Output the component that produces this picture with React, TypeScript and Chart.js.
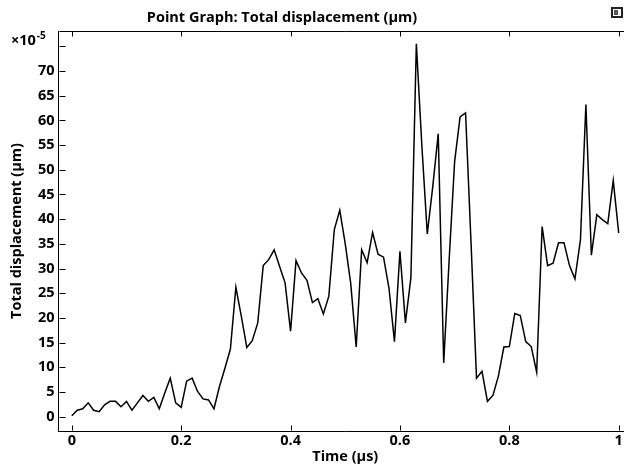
import React, { useEffect, useRef } from "react";
import { Chart, registerables } from "chart.js";

Chart.register(...registerables);

// Time (µs)
const TIMES = [
  0, 0.01, 0.02, 0.03, 0.04, 0.05, 0.06, 0.07, 0.08, 0.09,
  0.1, 0.11, 0.12, 0.13, 0.14, 0.15, 0.16, 0.17, 0.18, 0.19,
  0.2, 0.21, 0.22, 0.23, 0.24, 0.25, 0.26, 0.27, 0.28, 0.29,
  0.3, 0.31, 0.32, 0.33, 0.34, 0.35, 0.36, 0.37, 0.38, 0.39,
  0.4, 0.41, 0.42, 0.43, 0.44, 0.45, 0.46, 0.47, 0.48, 0.49,
  0.5, 0.51, 0.52, 0.53, 0.54, 0.55, 0.56, 0.57, 0.58, 0.59,
  0.6, 0.61, 0.62, 0.63, 0.64, 0.65, 0.66, 0.67, 0.68, 0.69,
  0.7, 0.71, 0.72, 0.73, 0.74, 0.75, 0.76, 0.77, 0.78, 0.79,
  0.8, 0.81, 0.82, 0.83, 0.84, 0.85, 0.86, 0.87, 0.88, 0.89,
  0.9, 0.91, 0.92, 0.93, 0.94, 0.95, 0.96, 0.97, 0.98, 0.99,
  1,
];

// Total displacement (µm), in units of 1e-5
const DISPLACEMENT = [
  0.2, 1.3, 1.6, 2.8, 1.3, 1.0, 2.4, 3.1, 3.1, 2.0,
  3.1, 1.3, 2.8, 4.3, 3.1, 3.9, 1.6, 4.8, 7.8, 2.8,
  1.9, 7.2, 7.8, 5.1, 3.6, 3.4, 1.6, 6.1, 9.8, 13.7,
  26.2, 20.3, 14.0, 15.4, 19.0, 30.6, 31.8, 33.8, 30.4, 27.1,
  17.3, 31.6, 29.1, 27.6, 23.1, 23.9, 20.8, 24.4, 37.9, 41.8,
  35.0, 27.0, 14.1, 33.8, 31.2, 37.3, 32.9, 32.3, 26.0, 15.2,
  33.5, 19.0, 28.1, 75.5, 55.0, 37.0, 46.6, 57.3, 10.9, 31.8,
  51.7, 60.7, 61.5, 35.2, 7.8, 9.2, 3.1, 4.3, 8.2, 14.1,
  14.2, 20.9, 20.5, 15.2, 14.2, 9.0, 38.5, 30.6, 31.1, 35.2,
  35.2, 30.6, 27.9, 35.8, 63.2, 32.7, 40.9, 39.9, 39.1, 47.8,
  37.2,
];

const X_TICKS = [0, 0.2, 0.4, 0.6, 0.8, 1];
const Y_TICKS = [0, 5, 10, 15, 20, 25, 30, 35, 40, 45, 50, 55, 60, 65, 70, 75];
const Y_HIDDEN_LABELS = [75];

const TITLE = "Point Graph: Total displacement (µm)";
const X_TITLE = "Time (µs)";
const Y_TITLE = "Total displacement (µm)";
const Y_MULTIPLIER = "×10";
const Y_EXPONENT = "-5";

const FONT = "'Open Sans', 'Noto Sans', sans-serif";
const FS = 14.5;

const decorPlugin = {
  id: "decor",
  afterDraw(chart: any) {
    const { ctx, chartArea: a, scales } = chart;
    const xs = scales.x;
    const ys = scales.y;
    ctx.save();
    ctx.strokeStyle = "#000";
    ctx.lineWidth = 1;
    const top = Math.round(a.top) + 0.5;
    const right = Math.round(a.right) - 0.5;
    const bottom = Math.round(a.bottom) - 0.5;
    const left = Math.round(a.left) + 0.5;
    ctx.beginPath();
    ctx.moveTo(left, top);
    ctx.lineTo(right, top);
    ctx.moveTo(right, top);
    ctx.lineTo(right, bottom);
    const tl = 5;
    X_TICKS.forEach((v) => {
      const px = Math.round(xs.getPixelForValue(v)) + 0.5;
      ctx.moveTo(px, bottom);
      ctx.lineTo(px, bottom - tl);
      ctx.moveTo(px, top);
      ctx.lineTo(px, top + tl);
    });
    Y_TICKS.forEach((v) => {
      const py = Math.round(ys.getPixelForValue(v)) + 0.5;
      ctx.moveTo(left, py);
      ctx.lineTo(left + tl + 1, py);
      ctx.moveTo(right, py);
      ctx.lineTo(right - tl, py);
    });
    ctx.stroke();

    // title
    ctx.fillStyle = "#000";
    ctx.font = `bold ${FS}px ${FONT}`;
    ctx.textAlign = "center";
    ctx.textBaseline = "middle";
    ctx.fillText(TITLE, 282, 18);

    // multiplier
    ctx.textAlign = "left";
    ctx.textBaseline = "alphabetic";
    ctx.font = `bold ${FS}px ${FONT}`;
    ctx.fillText(Y_MULTIPLIER, 11, 45);
    const w = ctx.measureText(Y_MULTIPLIER).width;
    ctx.font = `bold 10px ${FONT}`;
    ctx.fillText(Y_EXPONENT, 11 + w + 1, 38.5);

    // small icon top-right
    ctx.fillStyle = "#222";
    ctx.fillRect(611, 7, 12, 11);
    ctx.fillStyle = "#fff";
    ctx.fillRect(613, 9, 8, 7);
    ctx.fillStyle = "#555";
    ctx.fillRect(614, 10, 4, 5);
    ctx.restore();
  },
};

export default function App() {
  const canvasRef = useRef<HTMLCanvasElement | null>(null);

  useEffect(() => {
    const canvas = canvasRef.current;
    if (!canvas) return;
    const chart = new Chart(canvas, {
      type: "line",
      data: {
        datasets: [
          {
            data: TIMES.map((t, i) => ({ x: t, y: DISPLACEMENT[i] })),
            borderColor: "#000",
            borderWidth: 1.5,
            pointRadius: 0,
            tension: 0,
            fill: false,
          },
        ],
      },
      options: {
        animation: false,
        responsive: false,
        maintainAspectRatio: false,
        devicePixelRatio: 1,
        layout: { padding: { top: 31, right: 0, left: 0, bottom: 0 } },
        plugins: {
          legend: { display: false },
          tooltip: { enabled: false },
          title: { display: false },
        },
        scales: {
          x: {
            type: "linear",
            min: -0.0243,
            max: 1.0243,
            afterBuildTicks: (s: any) => {
              s.ticks = X_TICKS.map((v) => ({ value: v }));
            },
            afterFit: (s: any) => {
              s.height = 37;
            },
            grid: { display: false, drawTicks: false },
            border: { display: true, color: "#000", width: 1 },
            ticks: {
              autoSkip: false,
              maxRotation: 0,
              padding: 1,
              color: "#000",
              font: { family: FONT, size: FS, weight: "bold" },
              callback: (v: any) => String(v),
            },
            title: {
              display: true,
              text: X_TITLE,
              color: "#000",
              font: { family: FONT, size: FS, weight: "bold" },
              padding: { top: 0, bottom: 2 },
            },
          },
          y: {
            type: "linear",
            min: -2.9,
            max: 78.1,
            afterBuildTicks: (s: any) => {
              s.ticks = Y_TICKS.map((v) => ({ value: v }));
            },
            afterFit: (s: any) => {
              s.width = 58.5;
            },
            grid: { display: false, drawTicks: false },
            border: { display: true, color: "#000", width: 1 },
            ticks: {
              autoSkip: false,
              padding: 4,
              color: "#000",
              font: { family: FONT, size: FS, weight: "bold" },
              callback: (v: any) => (Y_HIDDEN_LABELS.includes(v) ? "" : String(v)),
            },
            title: {
              display: true,
              text: Y_TITLE,
              color: "#000",
              font: { family: FONT, size: FS, weight: "bold" },
              padding: { top: 8, bottom: 0 },
            },
          },
        },
      },
      plugins: [decorPlugin],
    });
    return () => chart.destroy();
  }, []);

  return (
    <div
      style={{
        position: "absolute",
        left: 0,
        top: 0,
        width: 624,
        height: 468,
        overflow: "hidden",
        background: "#fff",
      }}
    >
      <canvas ref={canvasRef} width={632} height={468} style={{ display: "block" }} />
    </div>
  );
}
